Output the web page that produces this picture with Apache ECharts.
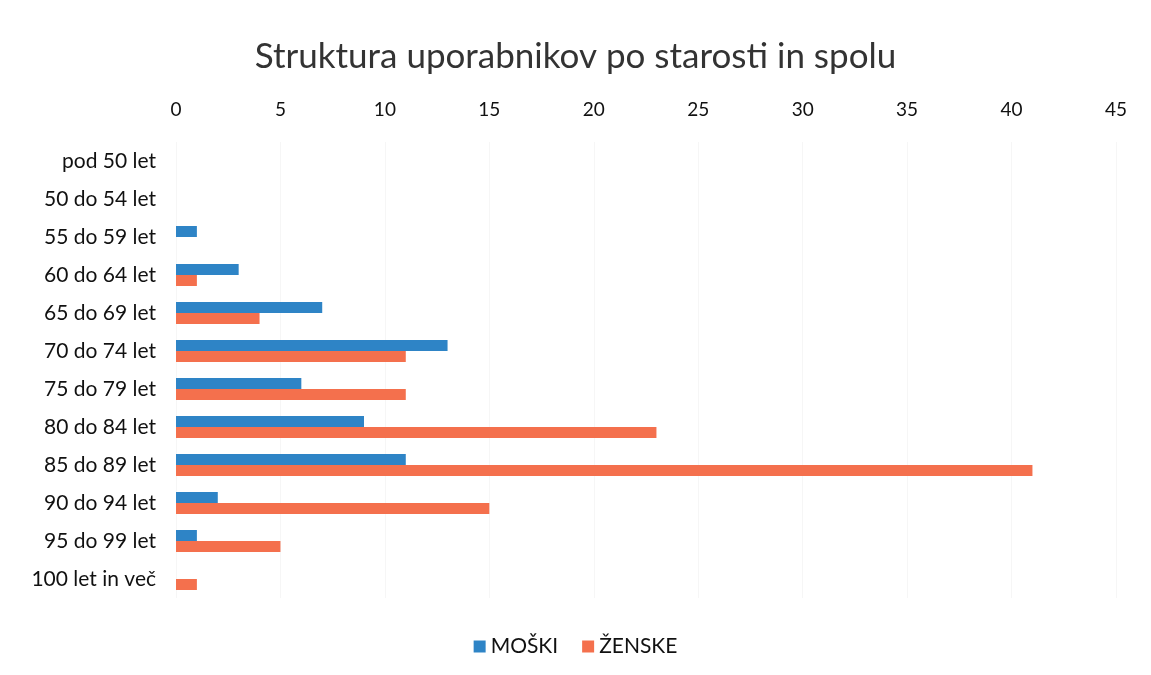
<!DOCTYPE html>
<html><head><meta charset="utf-8">
<script src="https://cdn.jsdelivr.net/npm/echarts@6/dist/echarts.min.js"></script>
<style>html,body{margin:0;padding:0;background:#fff}#c{width:1151px;height:675px}</style>
</head><body><div id="c"></div>
<script>
const categories = ['pod 50 let','50 do 54 let','55 do 59 let','60 do 64 let','65 do 69 let','70 do 74 let','75 do 79 let','80 do 84 let','85 do 89 let','90 do 94 let','95 do 99 let','100 let in več'];
const moski = [0,0,1,3,7,13,6,9,11,2,1,0];
const zenske = [0,0,0,1,4,11,11,23,41,15,5,1];
const xTicks = {min:0, max:45, interval:5};
const font = 'Lato, "Open Sans", sans-serif';
const chart = echarts.init(document.getElementById('c'));
chart.setOption({
  animation:false,
  backgroundColor:'#fff',
  title:{text:'Struktura uporabnikov po starosti in spolu', left:'center', top:34,
    textStyle:{fontFamily:font, fontSize:35, fontWeight:'normal', color:'#333'}},
  legend:{bottom:13, left:'center', itemWidth:12, itemHeight:12, itemGap:24,
    textStyle:{fontFamily:font, fontSize:21, color:'#111'},
    data:[{name:'MOŠKI', icon:'rect'},{name:'ŽENSKE', icon:'rect'}]},
  grid:{left:176, right:35, top:142, bottom:77, containLabel:false},
  xAxis:{type:'value', position:'top', min:xTicks.min, max:xTicks.max, interval:xTicks.interval,
    axisLine:{show:false}, axisTick:{show:false},
    axisLabel:{margin:23, fontFamily:font, fontSize:19, color:'#111'},
    splitLine:{show:true, lineStyle:{color:'#f6f6f6', width:1}}},
  yAxis:{type:'category', data:categories, inverse:true,
    axisLine:{show:false}, axisTick:{show:false},
    axisLabel:{margin:20, fontFamily:font, fontSize:21, color:'#111'}},
  series:[
    {name:'MOŠKI', type:'bar', data:moski, barWidth:11, barGap:'0%', itemStyle:{color:'#2e84c6'}},
    {name:'ŽENSKE', type:'bar', data:zenske, barWidth:11, barGap:'0%', itemStyle:{color:'#f4704d'}}
  ]
});
</script></body></html>
